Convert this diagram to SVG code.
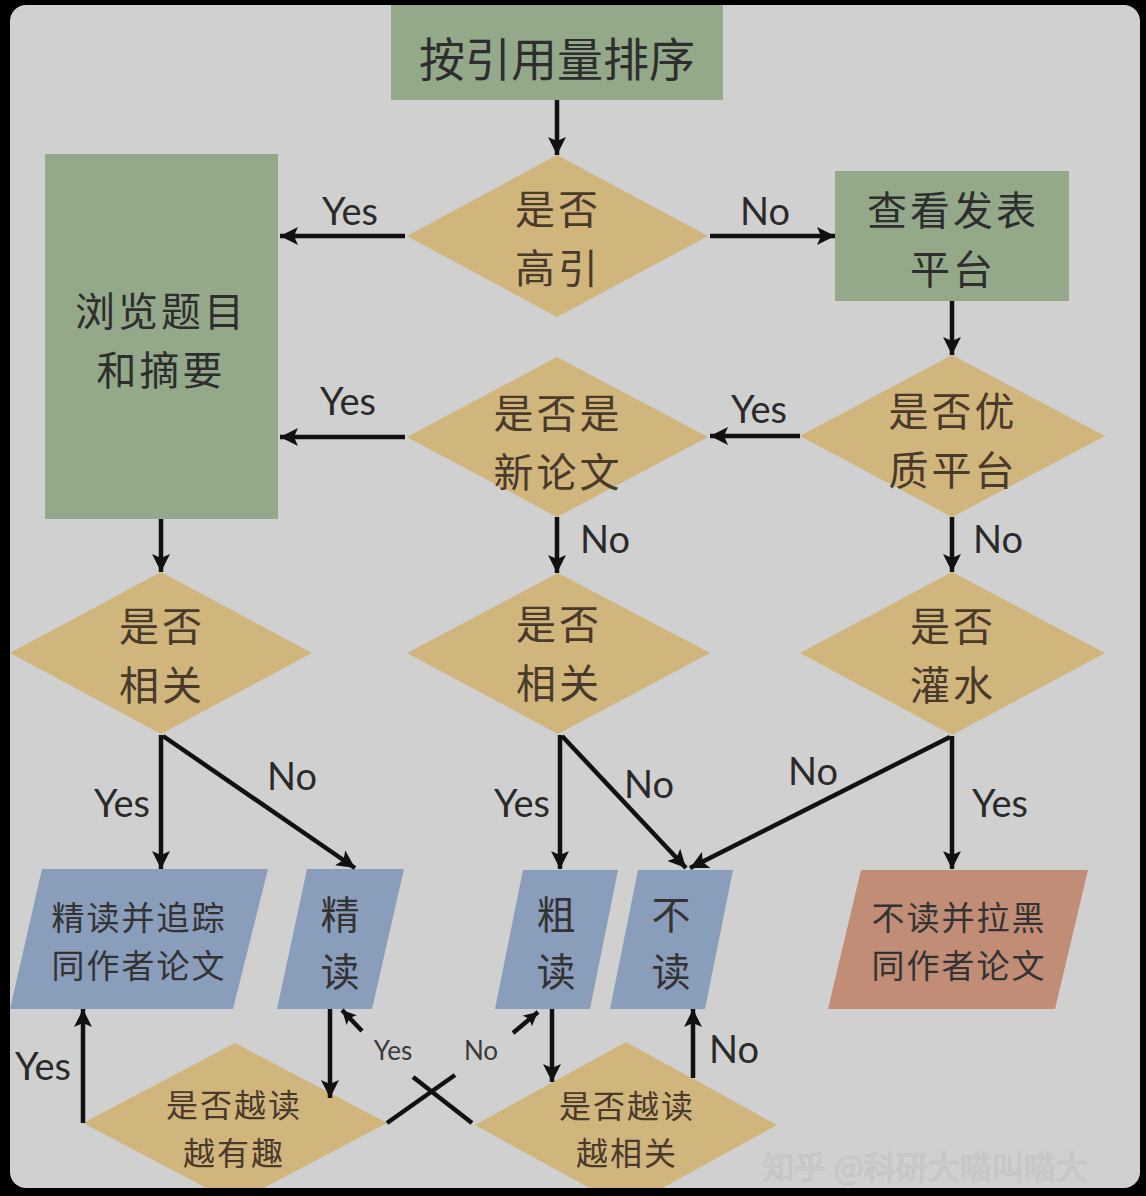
<svg xmlns="http://www.w3.org/2000/svg" width="1146" height="1196" viewBox="0 0 1146 1196">
<defs>
<style>
.green{fill:#93a98a;}
.dia{fill:#d0b57d;}
.blue{fill:#8a9dba;}
.salmon{fill:#c18d77;}
.cjk{font-family:"Noto Sans CJK SC","Noto Sans",sans-serif;text-anchor:middle;dominant-baseline:central;}
.t46{font-size:46px;fill:#2e2e2e;}
.t44{font-size:40px;fill:#2e2e2e;letter-spacing:3px;}
.td{font-size:40px;fill:#4a3a2a;letter-spacing:3px;}
.tb{font-size:33px;fill:#333;letter-spacing:2px;}
.tb42{font-size:39px;fill:#333;}
.tsm{font-size:32px;fill:#4a3a2a;letter-spacing:2px;}
.lab{font-family:Lato,"Liberation Sans",sans-serif;font-size:38px;fill:#2a2a2a;text-anchor:middle;}
.labs{font-family:Lato,"Liberation Sans",sans-serif;font-size:26px;fill:#3a3a3a;text-anchor:middle;}
.ln{stroke:#111;stroke-width:4.5;fill:none;}
.wm{font-family:"Noto Sans CJK SC",sans-serif;font-size:32px;fill:#cbcbcb;stroke:#bdbdbd;stroke-width:0.6;text-anchor:middle;dominant-baseline:central;}
</style>
<marker id="ah" markerUnits="userSpaceOnUse" markerWidth="20" markerHeight="18" refX="18" refY="9" orient="auto">
<path d="M0,0 L18,9 L0,18 L4,9 z" fill="#111"/>
</marker>
<marker id="ahs" markerUnits="userSpaceOnUse" markerWidth="16" markerHeight="14" refX="14" refY="7" orient="auto">
<path d="M0,0 L14,7 L0,14 L3,7 z" fill="#111"/>
</marker>
<clipPath id="panel"><rect x="10" y="5" width="1130" height="1183" rx="16"/></clipPath>
</defs>
<rect x="0" y="0" width="1146" height="1196" fill="#000"/>
<rect x="10" y="5" width="1130" height="1183" rx="16" fill="#d0d0d0"/>
<g clip-path="url(#panel)">
<g id="n-sort"><rect class="green" x="391" y="5" width="332" height="95"/><text class="cjk t46" x="557" y="56">按引用量排序</text></g>
<g id="n-highcite"><polygon class="dia" points="557,155 708,236 557,317 407,236"/><text class="cjk td"><tspan x="558" y="207">是否</tspan><tspan x="558" y="266">高引</tspan></text></g>
<g id="n-browse"><rect class="green" x="45" y="154" width="233" height="365"/><text class="cjk t44"><tspan x="161" y="309">浏览题目</tspan><tspan x="161" y="368">和摘要</tspan></text></g>
<g id="n-venue"><rect class="green" x="835" y="171" width="234" height="130"/><text class="cjk t44"><tspan x="953" y="208">查看发表</tspan><tspan x="953" y="267">平台</tspan></text></g>
<g id="n-goodvenue"><polygon class="dia" points="952,355 1105,436 952,517 800,436"/><text class="cjk td"><tspan x="953" y="409">是否优</tspan><tspan x="953" y="468">质平台</tspan></text></g>
<g id="n-new"><polygon class="dia" points="557,357 708,437 557,517 407,437"/><text class="cjk td"><tspan x="558" y="411">是否是</tspan><tspan x="558" y="470">新论文</tspan></text></g>
<g id="n-rel-left"><polygon class="dia" points="161,572 312,653 161,734 10,653"/><text class="cjk td"><tspan x="162" y="624">是否</tspan><tspan x="162" y="683">相关</tspan></text></g>
<g id="n-rel-mid"><polygon class="dia" points="558,573 710,653 558,734 407,653"/><text class="cjk td"><tspan x="559" y="622">是否</tspan><tspan x="559" y="681">相关</tspan></text></g>
<g id="n-water"><polygon class="dia" points="952,572 1105,653 952,735 800,653"/><text class="cjk td"><tspan x="953" y="624">是否</tspan><tspan x="953" y="683">灌水</tspan></text></g>
<g id="n-readtrack"><polygon class="blue" points="42,869 268,869 233,1009 10,1009"/><text class="cjk tb"><tspan x="139" y="916">精读并追踪</tspan><tspan x="139" y="964">同作者论文</tspan></text></g>
<g id="n-read"><polygon class="blue" points="307,869 404,869 372,1009 277,1009"/><text class="cjk tb42"><tspan x="340" y="912">精</tspan><tspan x="340" y="969">读</tspan></text></g>
<g id="n-skim"><polygon class="blue" points="523,870 618,870 590,1009 495,1009"/><text class="cjk tb42"><tspan x="556" y="912">粗</tspan><tspan x="556" y="969">读</tspan></text></g>
<g id="n-noread"><polygon class="blue" points="638,870 733,870 705,1009 610,1009"/><text class="cjk tb42"><tspan x="671" y="912">不</tspan><tspan x="671" y="969">读</tspan></text></g>
<g id="n-blacklist"><polygon class="salmon" points="861,870 1088,870 1055,1009 828,1009"/><text class="cjk tb"><tspan x="959" y="916">不读并拉黑</tspan><tspan x="959" y="964">同作者论文</tspan></text></g>
<g id="n-interest"><polygon class="dia" points="235,1043 387,1123 235,1203 83,1123"/><text class="cjk tsm"><tspan x="234" y="1103">是否越读</tspan><tspan x="234" y="1151">越有趣</tspan></text></g>
<g id="n-morerel"><polygon class="dia" points="626,1042 777,1125 626,1208 475,1125"/><text class="cjk tsm"><tspan x="627" y="1104">是否越读</tspan><tspan x="627" y="1151">越相关</tspan></text></g>
<g id="connectors">
<line class="ln" x1="557" y1="100" x2="557" y2="155" marker-end="url(#ah)"/>
<line class="ln" x1="405" y1="236" x2="280" y2="236" marker-end="url(#ah)"/>
<line class="ln" x1="710" y1="236" x2="835" y2="236" marker-end="url(#ah)"/>
<line class="ln" x1="952" y1="301" x2="952" y2="355" marker-end="url(#ah)"/>
<line class="ln" x1="800" y1="436" x2="710" y2="436" marker-end="url(#ah)"/>
<line class="ln" x1="405" y1="437" x2="280" y2="437" marker-end="url(#ah)"/>
<line class="ln" x1="557" y1="517" x2="557" y2="573" marker-end="url(#ah)"/>
<line class="ln" x1="161" y1="519" x2="161" y2="572" marker-end="url(#ah)"/>
<line class="ln" x1="952" y1="517" x2="952" y2="572" marker-end="url(#ah)"/>
<line class="ln" x1="161" y1="735" x2="161" y2="869" marker-end="url(#ah)"/>
<line class="ln" x1="163" y1="736" x2="355" y2="868" marker-end="url(#ah)"/>
<line class="ln" x1="560" y1="735" x2="560" y2="869" marker-end="url(#ah)"/>
<line class="ln" x1="562" y1="736" x2="686" y2="868" marker-end="url(#ah)"/>
<line class="ln" x1="950" y1="737" x2="690" y2="868" marker-end="url(#ah)"/>
<line class="ln" x1="952" y1="736" x2="952" y2="869" marker-end="url(#ah)"/>
<line class="ln" x1="83" y1="1123" x2="83" y2="1009" marker-end="url(#ah)"/>
<line class="ln" x1="330" y1="1009" x2="330" y2="1098" marker-end="url(#ah)"/>
<line class="ln" x1="552" y1="1009" x2="552" y2="1082" marker-end="url(#ah)"/>
<line class="ln" x1="693" y1="1078" x2="693" y2="1009" marker-end="url(#ah)"/>
<line class="ln" x1="387" y1="1123" x2="455" y2="1075"/>
<line class="ln" x1="413" y1="1077" x2="472" y2="1123"/>
<line class="ln" x1="362" y1="1031" x2="342" y2="1010" marker-end="url(#ahs)"/>
<line class="ln" x1="513" y1="1033" x2="538" y2="1012" marker-end="url(#ahs)"/>
</g>
<g id="labels">
<text class="lab" x="350" y="225">Yes</text>
<text class="lab" x="765" y="225">No</text>
<text class="lab" x="348" y="415">Yes</text>
<text class="lab" x="759" y="423">Yes</text>
<text class="lab" x="605" y="553">No</text>
<text class="lab" x="998" y="553">No</text>
<text class="lab" x="122" y="817">Yes</text>
<text class="lab" x="292" y="790">No</text>
<text class="lab" x="522" y="817">Yes</text>
<text class="lab" x="649" y="798">No</text>
<text class="lab" x="813" y="785">No</text>
<text class="lab" x="1000" y="817">Yes</text>
<text class="lab" x="43" y="1080">Yes</text>
<text class="labs" x="393" y="1060">Yes</text>
<text class="labs" x="481" y="1060">No</text>
<text class="lab" x="734" y="1063">No</text>
</g>
<text class="wm" x="925" y="1165">知乎 @科研大喵叫喵大</text>
</g>
</svg>
